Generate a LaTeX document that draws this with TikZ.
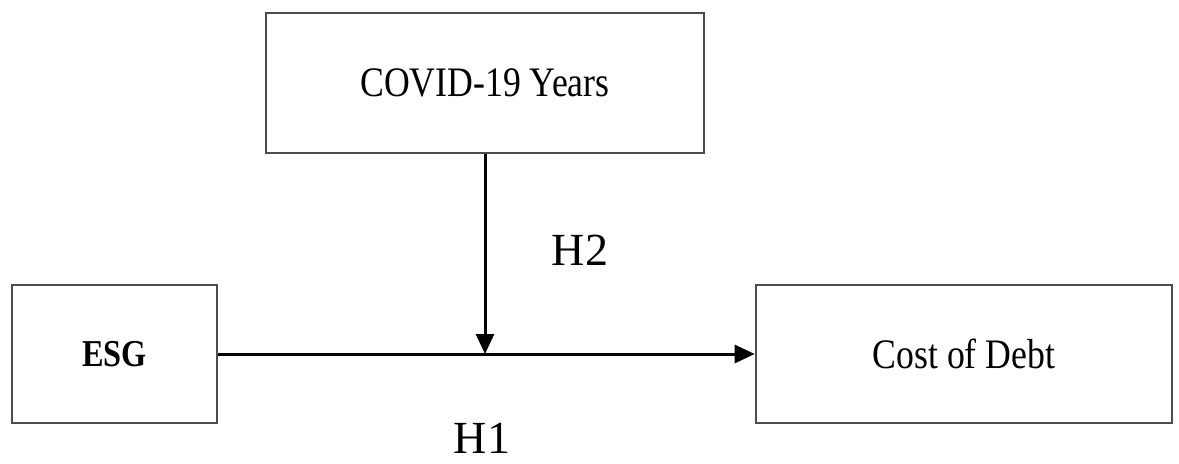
\documentclass[tikz,border=0pt]{standalone}
\usepackage{fontspec}
\setmainfont{Liberation Serif}
\newfontfamily\boxfont[FakeStretch=0.85]{Liberation Serif}
\usetikzlibrary{
    arrows.meta,
    positioning
}

\begin{document}
\begin{tikzpicture}[x=0.5pt,y=0.5pt,
    varbox/.style={draw=black!70,line width=1.3pt,inner sep=0pt,
        minimum height=69pt,font=\boxfont\fontsize{21}{25}\selectfont},
    hyplabel/.style={font=\fontsize{23}{27}\selectfont},
    link/.style={line width=1.5pt,-{Triangle[length=10pt,width=9pt]}}
]
\useasboundingbox (0,0) rectangle (1179,463);

% Variables
\node[varbox,minimum width=219pt,minimum height=70pt] (covid) at (485,380) {COVID-19 Years};
\node[varbox,minimum width=102.5pt,font=\boxfont\bfseries\fontsize{19}{23}\selectfont] (esg) at (114.5,109) {ESG};
\node[varbox,minimum width=208pt] (debt) at (964,109) {Cost of Debt};

% Paths
\coordinate (meet) at (covid.south |- esg.east);
\draw[link] (esg.east) -- (debt.west);
\draw[link] (covid.south) -- (meet);

% Hypotheses
\node[hyplabel] (h2) at (580,213) {H2};
\node[hyplabel] (h1) at (482,25) {H1};

\end{tikzpicture}
\end{document}
